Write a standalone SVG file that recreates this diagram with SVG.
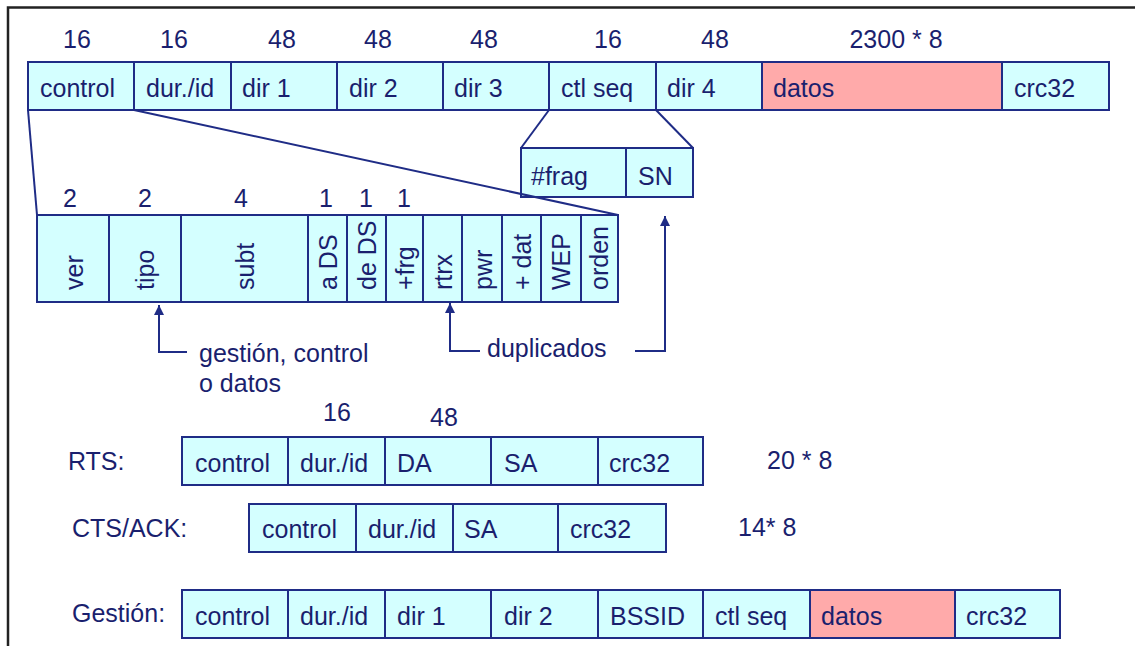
<svg xmlns="http://www.w3.org/2000/svg" width="1135" height="646" viewBox="0 0 1135 646">
  <style>
    .c { fill: #D4FFFF; stroke: #1F2C86; stroke-width: 2; }
    .p { fill: #FFAAAA; stroke: #1F2C86; stroke-width: 2; }
    text { font-family: "Liberation Sans", Arial, sans-serif; font-size: 25px; fill: #1A1F6E; }
    .m { text-anchor: middle; }
    .ln { fill: none; stroke: #1F2C86; stroke-width: 2; }
    .frame { fill: none; stroke: #222; stroke-width: 2.5; }
  </style>
  <defs>
    <marker id="ah" viewBox="0 0 10 10" refX="10" refY="5" markerWidth="10" markerHeight="10" markerUnits="userSpaceOnUse" orient="auto">
      <path d="M0,0 L10,5 L0,10 z" fill="#1F2C86"/>
    </marker>
  </defs>
  <rect width="1135" height="646" fill="#fff"/>
  <path class="frame" d="M8,646 V7.5 H1135"/>

  <!-- data frame -->
  <g id="frame-data">
    <rect class="c" x="28" y="62" width="106" height="48"/>
    <rect class="c" x="134" y="62" width="97" height="48"/>
    <rect class="c" x="231" y="62" width="106" height="48"/>
    <rect class="c" x="337" y="62" width="106" height="48"/>
    <rect class="c" x="443" y="62" width="106" height="48"/>
    <rect class="c" x="549" y="62" width="107" height="48"/>
    <rect class="c" x="656" y="62" width="106" height="48"/>
    <rect class="p" x="762" y="62" width="240" height="48"/>
    <rect class="c" x="1002" y="62" width="107" height="48"/>
    <text x="40" y="97">control</text>
    <text x="146" y="97">dur./id</text>
    <text x="242" y="97">dir 1</text>
    <text x="349" y="97">dir 2</text>
    <text x="454" y="97">dir 3</text>
    <text x="561" y="97">ctl seq</text>
    <text x="667" y="97">dir 4</text>
    <text x="773" y="97">datos</text>
    <text x="1014" y="97">crc32</text>
    <text class="m" x="77" y="48">16</text>
    <text class="m" x="174" y="48">16</text>
    <text class="m" x="282" y="48">48</text>
    <text class="m" x="378" y="48">48</text>
    <text class="m" x="484" y="48">48</text>
    <text class="m" x="608" y="48">16</text>
    <text class="m" x="715" y="48">48</text>
    <text class="m" x="896" y="48">2300 * 8</text>
  </g>

  <!-- sequence control field -->
  <g id="seq-ctl">
    <rect class="c" x="521" y="148" width="105" height="49"/>
    <rect class="c" x="626" y="148" width="67" height="49"/>
    <text x="531" y="185">#frag</text>
    <text x="638" y="185">SN</text>
  </g>

  <!-- frame control field -->
  <g id="frame-ctl">
    <rect class="c" x="37" y="215" width="72" height="87"/>
    <rect class="c" x="109" y="215" width="72" height="87"/>
    <rect class="c" x="181" y="215" width="127" height="87"/>
    <rect class="c" x="308" y="215" width="39" height="87"/>
    <rect class="c" x="347" y="215" width="39" height="87"/>
    <rect class="c" x="386" y="215" width="37" height="87"/>
    <rect class="c" x="423" y="215" width="39" height="87"/>
    <rect class="c" x="462" y="215" width="40" height="87"/>
    <rect class="c" x="502" y="215" width="39" height="87"/>
    <rect class="c" x="541" y="215" width="40" height="87"/>
    <rect class="c" x="581" y="215" width="37" height="87"/>
    <text transform="translate(83,290) rotate(-90)">ver</text>
    <text transform="translate(154,290) rotate(-90)">tipo</text>
    <text transform="translate(254,290) rotate(-90)">subt</text>
    <text transform="translate(337,290) rotate(-90)">a DS</text>
    <text transform="translate(376,290) rotate(-90)">de DS</text>
    <text transform="translate(414,290) rotate(-90)">+frg</text>
    <text transform="translate(452,290) rotate(-90)">rtrx</text>
    <text transform="translate(492,290) rotate(-90)">pwr</text>
    <text transform="translate(531,290) rotate(-90)">+ dat</text>
    <text transform="translate(570,290) rotate(-90)">WEP</text>
    <text transform="translate(608,290) rotate(-90)">orden</text>
    <text class="m" x="70" y="207">2</text>
    <text class="m" x="145" y="207">2</text>
    <text class="m" x="241" y="207">4</text>
    <text class="m" x="326" y="207">1</text>
    <text class="m" x="366" y="207">1</text>
    <text class="m" x="404" y="207">1</text>
  </g>

  <!-- annotations -->
  <g id="notes">
    <text x="199" y="362">gestión, control</text>
    <text x="199" y="392">o datos</text>
    <text x="487" y="357">duplicados</text>
  </g>

  <!-- RTS -->
  <g id="rts">
    <text x="68" y="470">RTS:</text>
    <rect class="c" x="182" y="437" width="106" height="48"/>
    <rect class="c" x="288" y="437" width="97" height="48"/>
    <rect class="c" x="385" y="437" width="106" height="48"/>
    <rect class="c" x="491" y="437" width="107" height="48"/>
    <rect class="c" x="598" y="437" width="105" height="48"/>
    <text x="195" y="472">control</text>
    <text x="300" y="472">dur./id</text>
    <text x="397" y="472">DA</text>
    <text x="504" y="472">SA</text>
    <text x="609" y="472">crc32</text>
    <text class="m" x="337" y="421">16</text>
    <text class="m" x="444" y="426">48</text>
    <text x="767" y="469">20 * 8</text>
  </g>

  <!-- CTS / ACK -->
  <g id="cts-ack">
    <text x="72" y="537">CTS/ACK:</text>
    <rect class="c" x="249" y="504" width="107" height="48"/>
    <rect class="c" x="356" y="504" width="97" height="48"/>
    <rect class="c" x="453" y="504" width="105" height="48"/>
    <rect class="c" x="558" y="504" width="108" height="48"/>
    <text x="262" y="538">control</text>
    <text x="368" y="538">dur./id</text>
    <text x="464" y="538">SA</text>
    <text x="570" y="538">crc32</text>
    <text x="738" y="536">14* 8</text>
  </g>

  <!-- management -->
  <g id="gestion">
    <text x="72" y="622">Gestión:</text>
    <rect class="c" x="182" y="590" width="106" height="48"/>
    <rect class="c" x="288" y="590" width="97" height="48"/>
    <rect class="c" x="385" y="590" width="106" height="48"/>
    <rect class="c" x="491" y="590" width="107" height="48"/>
    <rect class="c" x="598" y="590" width="105" height="48"/>
    <rect class="c" x="703" y="590" width="107" height="48"/>
    <rect class="p" x="810" y="590" width="145" height="48"/>
    <rect class="c" x="955" y="590" width="105" height="48"/>
    <text x="195" y="625">control</text>
    <text x="300" y="625">dur./id</text>
    <text x="397" y="625">dir 1</text>
    <text x="504" y="625">dir 2</text>
    <text x="610" y="625">BSSID</text>
    <text x="715" y="625">ctl seq</text>
    <text x="821" y="625">datos</text>
    <text x="966" y="625">crc32</text>
  </g>

  <!-- connectors -->
  <g id="connectors">
    <path class="ln" d="M28,110 L37,215"/>
    <path class="ln" d="M134,110 L618,215"/>
    <path class="ln" d="M549,110 L521,148"/>
    <path class="ln" d="M656,110 L693,148"/>
    <path class="ln" d="M187,352 H159 V305" marker-end="url(#ah)"/>
    <path class="ln" d="M480,351 H450 V303" marker-end="url(#ah)"/>
    <path class="ln" d="M635,351 H665 V216" marker-end="url(#ah)"/>
  </g>
</svg>
